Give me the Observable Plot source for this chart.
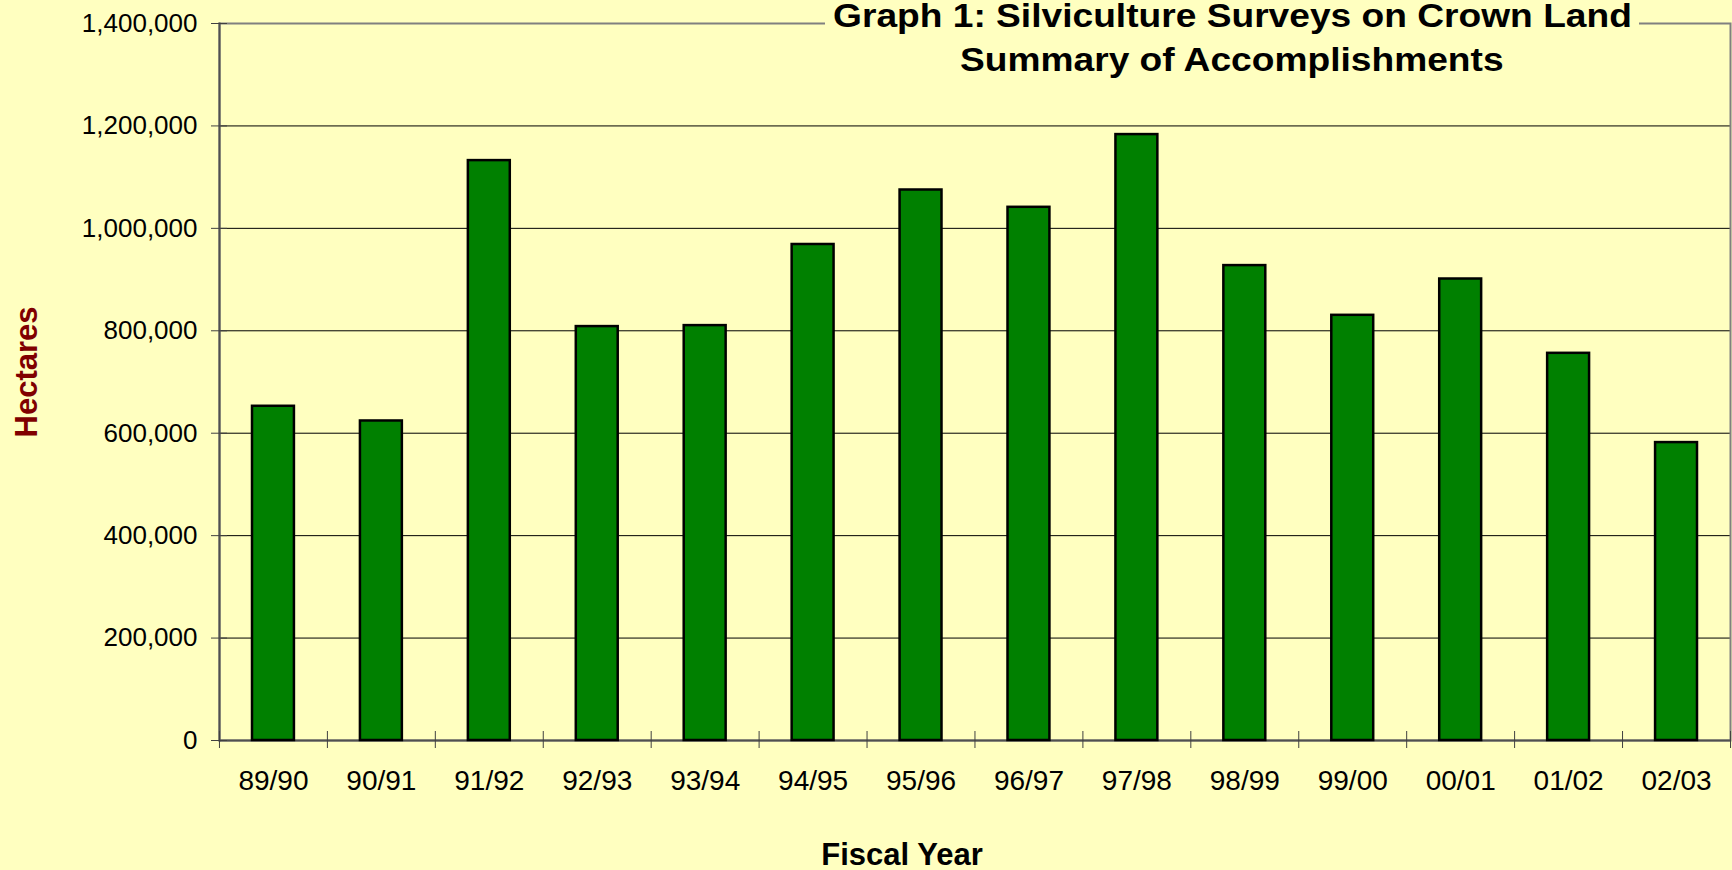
<!DOCTYPE html>
<html>
<head>
<meta charset="utf-8">
<script src="https://cdn.jsdelivr.net/npm/d3@7"></script>
<script src="https://cdn.jsdelivr.net/npm/@observablehq/plot@0.6"></script>
<style>
  html, body { margin: 0; padding: 0; background: #FFFFC0; }
  #wrap { position: relative; width: 1732px; height: 870px; overflow: hidden; background: #FFFFC0;
          font-family: "Liberation Sans", Arial, sans-serif; color: #000; }
  #chart svg { display: block; }
  #title { position: absolute; left: 825px; top: 0px; width: 814px; background: #FFFFC0;
           text-align: center; font-weight: bold; font-size: 32.5px; padding-bottom: 4px; }
  #title div { white-space: nowrap; }
  #title .l1 { line-height: 32px; }
  #title .l2 { line-height: 57px; }
  #title span { display: inline-block; transform: scaleX(1.143); transform-origin: center; white-space: nowrap; }
  #xlabel { position: absolute; left: 902px; top: 853.5px; transform: translate(-50%, -50%);
            font-weight: bold; font-size: 31px; line-height: 31px; white-space: nowrap; }
  #ylabel { position: absolute; left: 25.5px; top: 372px; transform: translate(-50%, -50%) rotate(-90deg);
            font-weight: bold; font-size: 31px; line-height: 31px; color: #800000; white-space: nowrap; }
</style>
</head>
<body>
<div id="wrap">
  <div id="chart"></div>
  <div id="title"><div class="l1"><span>Graph 1: Silviculture Surveys on Crown Land</span></div><div class="l2"><span>Summary of Accomplishments</span></div></div>
  <div id="xlabel">Fiscal Year</div>
  <div id="ylabel">Hectares</div>
</div>
<script>
const fiscalYears = ["89/90","90/91","91/92","92/93","93/94","94/95","95/96","96/97","97/98","98/99","99/00","00/01","01/02","02/03"];
const hectares = [652600, 623900, 1132300, 808200, 810100, 968500, 1074900, 1041100, 1183100, 927300, 830200, 901100, 756000, 581700];
const yTicks = [0, 200000, 400000, 600000, 800000, 1000000, 1200000, 1400000];
const gridTicks = [200000, 400000, 600000, 800000, 1000000, 1200000];

const data = fiscalYears.map((year, i) => ({year, value: hectares[i]}));

const chart = Plot.plot({
  width: 1732,
  height: 870,
  marginLeft: 219,
  marginRight: 2,
  marginTop: 23,
  marginBottom: 130,
  style: {background: "#FFFFC0", fontFamily: "'Liberation Sans', Arial, sans-serif", fontSize: "26px", color: "black", overflow: "visible"},
  x: {domain: fiscalYears, padding: 0, round: false, label: null},
  y: {domain: [0, 1400000], label: null},
  marks: [
    Plot.gridY(gridTicks, {stroke: "black", strokeOpacity: 1, strokeWidth: 1}),
    Plot.frame({stroke: "#808080", strokeWidth: 2}),
    Plot.ruleY([0], {stroke: "#505050", strokeWidth: 2}),
    Plot.frame({anchor: "left", stroke: "#505050", strokeWidth: 2}),
    // y tick marks crossing the axis
    Plot.axisY({ticks: yTicks, tickSize: 16, dx: 8, tickFormat: () => "", stroke: "#404040", label: null}),
    // y tick labels
    Plot.axisY({ticks: yTicks, tickSize: 0, tickPadding: 22, tickFormat: d3.format(","), fontSize: 26, label: null}),
    // x category boundary ticks crossing the baseline
    Plot.axisX({ticks: fiscalYears, tickSize: 17, dx: -54, dy: -9, tickFormat: () => "", stroke: "#404040", label: null}),
    Plot.axisX({ticks: [fiscalYears[fiscalYears.length - 1]], tickSize: 17, dx: 54, dy: -9, tickFormat: () => "", stroke: "#404040", label: null}),
    // x labels
    Plot.axisX({tickSize: 0, tickPadding: 30, fontSize: 28, label: null}),
    Plot.barY(data, {x: "year", y: "value", fill: "#008000", stroke: "black", strokeWidth: 2.5, insetLeft: 33, insetRight: 33})
  ]
});
document.getElementById("chart").appendChild(chart);
</script>
</body>
</html>
